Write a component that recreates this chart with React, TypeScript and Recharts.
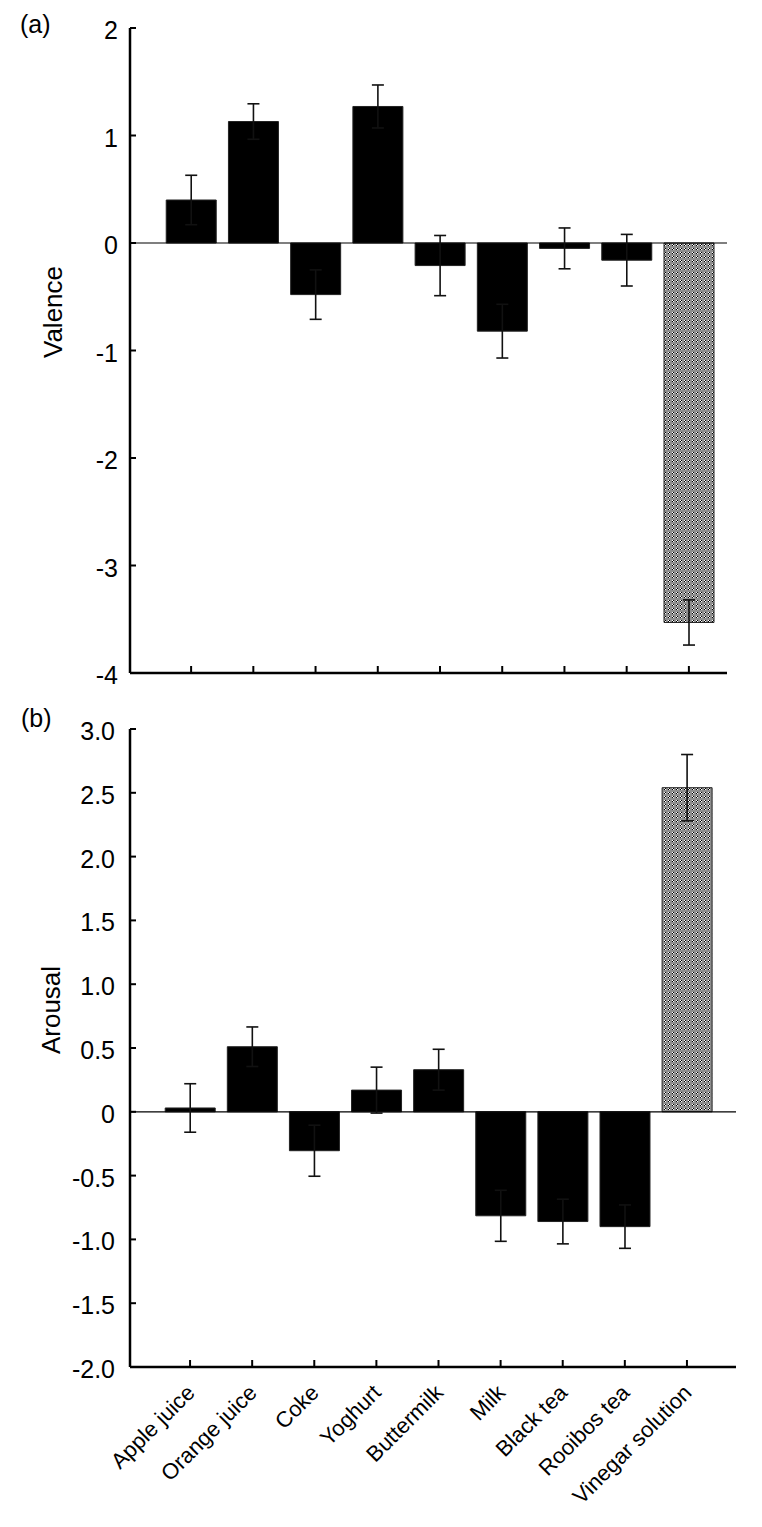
import React from 'react';
import { BarChart, Bar, XAxis, YAxis, ErrorBar, Cell, ReferenceLine } from 'recharts';

const FONT = "Arial, 'Liberation Sans', sans-serif";

// drinks, left to right
const categories = [
  'Apple juice',
  'Orange juice',
  'Coke',
  'Yoghurt',
  'Buttermilk',
  'Milk',
  'Black tea',
  'Rooibos tea',
  'Vinegar solution',
];

// (a) valence means and error
const valence = [0.4, 1.13, -0.48, 1.27, -0.21, -0.82, -0.05, -0.16, -3.53];
const valenceErr = [0.23, 0.165, 0.23, 0.2, 0.28, 0.25, 0.19, 0.24, 0.21];

// (b) arousal means and error
const arousal = [0.03, 0.51, -0.305, 0.17, 0.33, -0.815, -0.86, -0.9, 2.54];
const arousalErr = [0.19, 0.155, 0.2, 0.18, 0.16, 0.2, 0.175, 0.17, 0.26];

const valenceTicks = [-4, -3, -2, -1, 0, 1, 2];
const arousalTicks = [-2, -1.5, -1, -0.5, 0, 0.5, 1, 1.5, 2, 2.5, 3];

const controlDrink = 'Vinegar solution';

const valenceData = categories.map((name, i) => ({ name, value: valence[i], err: valenceErr[i] }));
const arousalData = categories.map((name, i) => ({ name, value: arousal[i], err: arousalErr[i] }));

const fmtInt = (v: number) => String(v);
const fmtOne = (v: number) => (v === 0 ? '0' : v.toFixed(1));

const yTick = (fmt: (v: number) => string, gap: number) => (props: any) => {
  const { x, y, payload } = props;
  return (
    <g>
      <line x1={x} y1={y} x2={x + 6} y2={y} stroke="#000" strokeWidth={2} />
      <text x={x - gap} y={y + 2} dy="0.36em" textAnchor="end" fontSize={25} fontFamily={FONT} fill="#000">
        {fmt(payload.value)}
      </text>
    </g>
  );
};

const xTickMark = (props: any) => {
  const { x, y } = props;
  return <line x1={x} y1={y} x2={x} y2={y - 7} stroke="#000" strokeWidth={2} />;
};

const xTickLabel = (props: any) => {
  const { x, y, payload } = props;
  const tx = x + 6;
  const ty = y + 27;
  return (
    <g>
      <line x1={x} y1={y} x2={x} y2={y - 7} stroke="#000" strokeWidth={2} />
      <text
        x={tx}
        y={ty}
        transform={`rotate(-45, ${tx}, ${ty})`}
        textAnchor="end"
        fontSize={22}
        fontFamily={FONT}
        fill="#000"
      >
        {payload.value}
      </text>
    </g>
  );
};

const Checker = () => (
  <defs>
    <pattern id="checker" width={4} height={4} patternUnits="userSpaceOnUse">
      <rect width={4} height={4} fill="#8e8e8e" />
      <rect x={0} y={0} width={1} height={1} fill="#fff" />
      <rect x={1} y={1} width={1} height={1} fill="#fff" />
      <rect x={1} y={0} width={1} height={1} fill="#000" />
      <rect x={0} y={1} width={1} height={1} fill="#000" />
    </pattern>
  </defs>
);

const barCells = (data: { name: string }[]) =>
  data.map((d) => (
    <Cell key={d.name} fill={d.name === controlDrink ? 'url(#checker)' : '#000'} />
  ));

export default function App() {
  return (
    <div style={{ position: 'absolute', left: 0, top: 0, width: 762, height: 1527, background: '#fff' }}>
      <div style={{ position: 'absolute', left: 0, top: 0 }}>
        <BarChart
          width={762}
          height={700}
          data={valenceData}
          margin={{ top: 28, right: 35, left: 0, bottom: 26 }}
          barCategoryGap="10%"
        >
          <Checker />
          <XAxis
            dataKey="name"
            height={1}
            interval={0}
            padding={{ left: 30, right: 7 }}
            axisLine={{ stroke: '#000', strokeWidth: 2.5 }}
            tickLine={false}
            tickSize={0}
            tickMargin={0}
            tick={xTickMark}
          />
          <YAxis
            width={130}
            domain={[-4, 2]}
            ticks={valenceTicks}
            interval={0}
            axisLine={{ stroke: '#000', strokeWidth: 2.5 }}
            tickLine={false}
            tickSize={0}
            tickMargin={0}
            tick={yTick(fmtInt, 12)}
          />
          <ReferenceLine y={0} stroke="#000" strokeWidth={1.2} />
          <Bar dataKey="value" stroke="#222" strokeWidth={1} isAnimationActive={false}>
            {barCells(valenceData)}
            <ErrorBar dataKey="err" direction="y" width={6} stroke="#111" strokeWidth={1.6} />
          </Bar>
        </BarChart>
      </div>
      <div style={{ position: 'absolute', left: 0, top: 700 }}>
        <BarChart
          width={762}
          height={827}
          data={arousalData}
          margin={{ top: 29, right: 26, left: 0, bottom: 30 }}
          barCategoryGap="10%"
        >
          <Checker />
          <XAxis
            dataKey="name"
            height={130}
            interval={0}
            padding={{ left: 29, right: 18 }}
            axisLine={{ stroke: '#000', strokeWidth: 2.5 }}
            tickLine={false}
            tickSize={0}
            tickMargin={0}
            tick={xTickLabel}
          />
          <YAxis
            width={130}
            domain={[-2, 3]}
            ticks={arousalTicks}
            interval={0}
            axisLine={{ stroke: '#000', strokeWidth: 2.5 }}
            tickLine={false}
            tickSize={0}
            tickMargin={0}
            tick={yTick(fmtOne, 15)}
          />
          <ReferenceLine y={0} stroke="#000" strokeWidth={1.2} />
          <Bar dataKey="value" stroke="#222" strokeWidth={1} isAnimationActive={false}>
            {barCells(arousalData)}
            <ErrorBar dataKey="err" direction="y" width={6} stroke="#111" strokeWidth={1.6} />
          </Bar>
        </BarChart>
      </div>
      <svg
        width={762}
        height={1527}
        style={{ position: 'absolute', left: 0, top: 0, pointerEvents: 'none' }}
        fontFamily={FONT}
      >
        <text x={20} y={33} fontSize={25} fill="#000">(a)</text>
        <text x={21} y={727} fontSize={25} fill="#000">(b)</text>
        <text x={62} y={312} fontSize={26} fill="#000" textAnchor="middle" transform="rotate(-90, 62, 312)">
          Valence
        </text>
        <text x={60} y={1010} fontSize={26} fill="#000" textAnchor="middle" transform="rotate(-90, 60, 1010)">
          Arousal
        </text>
      </svg>
    </div>
  );
}
